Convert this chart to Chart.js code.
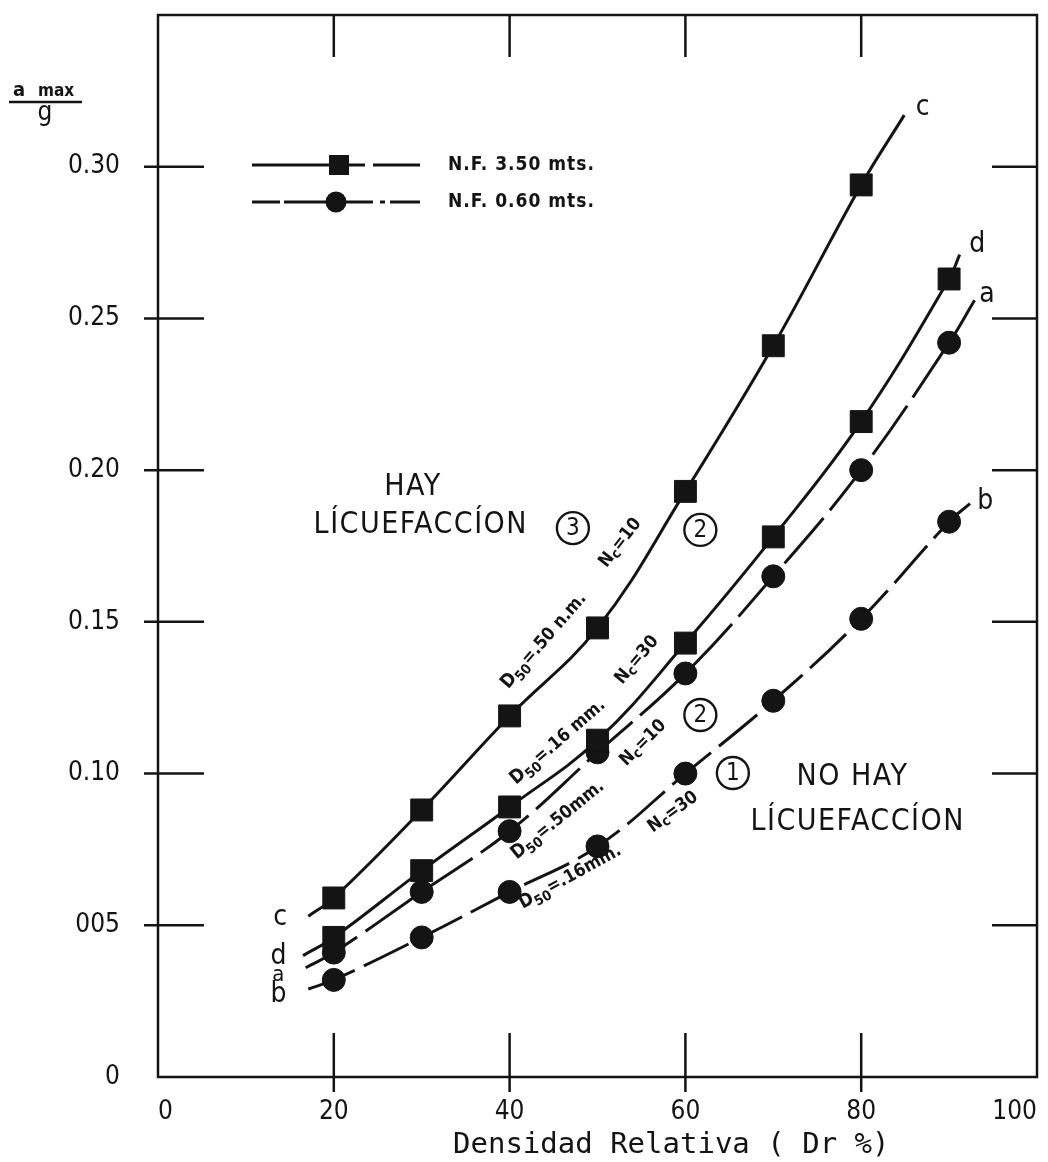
<!DOCTYPE html>
<html>
<head>
<meta charset="utf-8">
<script src="https://cdn.jsdelivr.net/npm/chart.js@4.4.0/dist/chart.umd.min.js"></script>
<style>
  html, body { margin: 0; padding: 0; background: #fff; }
  canvas { display: block; }
</style>
</head>
<body>
<canvas id="chart" width="1048" height="1162"></canvas>
<script>
// Relative density (Dr %) of the tested samples
const densities = [20, 30, 40, 50, 60, 70, 80, 90];

// a max / g at each density, one array per curve (null = not tested)
const curveC = [0.059, 0.088, 0.119, 0.148, 0.193, 0.241, 0.294, null];
const curveD = [0.046, 0.068, 0.089, 0.111, 0.143, 0.178, 0.216, 0.263];
const curveA = [0.041, 0.061, 0.081, 0.107, 0.133, 0.165, 0.200, 0.242];
const curveB = [0.032, 0.046, 0.061, 0.076, 0.100, 0.124, 0.151, 0.183];

// where each hand-drawn curve starts and stops, [Dr, a/g]
const endsC = [[17.1, 0.053], [84.9, 0.317]];
const endsD = [[16.5, 0.040], [91.2, 0.271]];
const endsA = [[16.8, 0.036], [92.9, 0.256]];
const endsB = [[17.1, 0.029], [92.4, 0.189]];

const xTickLabels = ['0', '20', '40', '60', '80', '100'];
const yTickLabels = ['0', '005', '0.10', '0.15', '0.20', '0.25', '0.30', ''];

const ink = '#141414';
const narrow = '"DejaVu Sans Condensed", "DejaVu Sans", sans-serif';
const mono = '"DejaVu Sans Mono", monospace';

function curveLine(values, ends, dash) {
    const pts = [{x: ends[0][0], y: ends[0][1]}];
    densities.forEach((x, i) => {
        if (values[i] != null) pts.push({x, y: values[i]});
    });
    pts.push({x: ends[1][0], y: ends[1][1]});
    return {
        data: pts,
        borderColor: ink,
        borderWidth: 3,
        borderDash: dash,
        pointRadius: 0,
        tension: 0.4,
        order: 1
    };
}

function curveMarks(values, style, radius) {
    const pts = [];
    densities.forEach((x, i) => {
        if (values[i] != null) pts.push({x, y: values[i]});
    });
    return {
        data: pts,
        showLine: false,
        pointStyle: style,
        pointRadius: radius,
        pointBackgroundColor: ink,
        pointBorderColor: ink,
        pointBorderWidth: 1,
        order: 0
    };
}

// rotated captions along the curves
const captions = [
    {x: 43.9, y: 0.1437, angle: -49, kind: 'D', text: '=.50 n.m.'},
    {x: 52.6, y: 0.1760, angle: -52, kind: 'N', text: '=10'},
    {x: 45.5, y: 0.1104, angle: -41, kind: 'D', text: '=.16 mm.'},
    {x: 54.5, y: 0.1374, angle: -50, kind: 'N', text: '=30'},
    {x: 45.5, y: 0.0847, angle: -39, kind: 'D', text: '=.50mm.'},
    {x: 55.2, y: 0.1101, angle: -45, kind: 'N', text: '=10'},
    {x: 46.9, y: 0.0659, angle: -29, kind: 'D', text: '=.16mm.'},
    {x: 58.6, y: 0.0873, angle: -36, kind: 'N', text: '=30'}
];

const zoneTexts = [
    {x: 29.0, y: 0.1944, text: 'HAY'},
    {x: 29.9, y: 0.1819, text: 'LÍCUEFACCÍON'},
    {x: 79.0, y: 0.0989, text: 'NO HAY'},
    {x: 79.6, y: 0.0840, text: 'LÍCUEFACCÍON'}
];

const zoneNumbers = [
    {x: 47.2, y: 0.1809, n: '3'},
    {x: 61.7, y: 0.1803, n: '2'},
    {x: 61.7, y: 0.1193, n: '2'},
    {x: 65.4, y: 0.1002, n: '1'}
];

const curveLetters = [
    {x: 87.0, y: 0.3196, t: 'c'}, {x: 93.2, y: 0.2742, t: 'd'},
    {x: 94.3, y: 0.2577, t: 'a'}, {x: 94.1, y: 0.1895, t: 'b'},
    {x: 13.9, y: 0.0524, t: 'c'}, {x: 13.7, y: 0.0398, t: 'd'},
    {x: 13.7, y: 0.0335, t: 'a', small: true}, {x: 13.7, y: 0.0270, t: 'b'}
];

function seg(ctx, x1, y1, x2, y2) {
    ctx.beginPath();
    ctx.moveTo(x1, y1);
    ctx.lineTo(x2, y2);
    ctx.stroke();
}

// border with the short inner ticks on all four sides
const frame = {
    id: 'frame',
    beforeDatasetsDraw(chart) {
        const {ctx, chartArea: {left, right, top, bottom}, scales: {x, y}} = chart;
        ctx.save();
        ctx.strokeStyle = ink;
        ctx.lineWidth = 2.5;
        ctx.strokeRect(left, top, right - left, bottom - top);
        x.ticks.forEach(t => {
            if (t.value <= x.min || t.value >= x.max) return;
            const px = x.getPixelForValue(t.value);
            seg(ctx, px, bottom + 15, px, bottom - 44);
            seg(ctx, px, top, px, top + 42);
        });
        y.ticks.forEach(t => {
            if (t.value <= y.min + 1e-9 || t.value >= y.max - 1e-9) return;
            const py = y.getPixelForValue(t.value);
            seg(ctx, left - 14, py, left + 46, py);
            seg(ctx, right - 45, py, right, py);
        });
        ctx.restore();
    }
};

function drawRun(ctx, parts, cx, cy, angle) {
    ctx.save();
    ctx.translate(cx, cy);
    ctx.rotate(angle * Math.PI / 180);
    ctx.textBaseline = 'middle';
    ctx.textAlign = 'left';
    let total = 0;
    parts.forEach(p => {
        ctx.font = `bold ${p[1]}px ${narrow}`;
        total += ctx.measureText(p[0]).width;
    });
    let pos = -total / 2;
    parts.forEach(p => {
        ctx.font = `bold ${p[1]}px ${narrow}`;
        ctx.fillText(p[0], pos, p[2]);
        pos += ctx.measureText(p[0]).width;
    });
    ctx.restore();
}

const notes = {
    id: 'notes',
    afterDatasetsDraw(chart) {
        const {ctx, chartArea: {left, top, bottom}, scales: {x, y}} = chart;
        ctx.save();
        ctx.fillStyle = ink;
        ctx.strokeStyle = ink;

        captions.forEach(c => {
            const parts = c.kind === 'D'
                ? [['D', 19, 0], ['50', 14, 6], [c.text, 18, 0]]
                : [['N', 18, 0], ['c', 14, 4], [c.text, 18, 0]];
            drawRun(ctx, parts, x.getPixelForValue(c.x), y.getPixelForValue(c.y), c.angle);
        });

        ctx.textAlign = 'center';
        ctx.textBaseline = 'middle';
        ctx.font = `30px ${narrow}`;
        ctx.letterSpacing = '1.5px';
        zoneTexts.forEach(z => {
            ctx.fillText(z.text, x.getPixelForValue(z.x), y.getPixelForValue(z.y));
        });
        ctx.letterSpacing = '0px';

        zoneNumbers.forEach(z => {
            const px = x.getPixelForValue(z.x), py = y.getPixelForValue(z.y);
            ctx.lineWidth = 2.4;
            ctx.beginPath();
            ctx.arc(px, py, 16, 0, Math.PI * 2);
            ctx.stroke();
            ctx.font = `24px ${narrow}`;
            ctx.fillText(z.n, px, py + 1);
        });

        curveLetters.forEach(l => {
            ctx.font = `${l.small ? 22 : 28}px ${narrow}`;
            ctx.fillText(l.t, x.getPixelForValue(l.x), y.getPixelForValue(l.y));
        });

        // legend
        ctx.lineWidth = 3;
        const r1 = top + 150, r2 = top + 187, lx = left + 94;
        seg(ctx, lx, r1, lx + 113, r1);
        seg(ctx, lx + 121, r1, lx + 168, r1);
        ctx.fillRect(lx + 77, r1 - 10, 20, 20);
        seg(ctx, lx, r2, lx + 28, r2);
        seg(ctx, lx + 32, r2, lx + 121, r2);
        seg(ctx, lx + 128, r2, lx + 133, r2);
        seg(ctx, lx + 138, r2, lx + 168, r2);
        ctx.beginPath();
        ctx.arc(lx + 84, r2, 10.5, 0, Math.PI * 2);
        ctx.fill();
        ctx.textAlign = 'left';
        ctx.font = `bold 19px ${narrow}`;
        ctx.letterSpacing = '1px';
        ctx.fillText('N.F. 3.50 mts.', lx + 196, r1);
        ctx.fillText('N.F. 0.60 mts.', lx + 196, r2);
        ctx.letterSpacing = '0px';

        // axis titles
        ctx.textBaseline = 'alphabetic';
        ctx.font = `29px ${mono}`;
        ctx.fillText('Densidad Relativa ( Dr %)', left + 295, bottom + 76);

        ctx.font = `bold 20px ${narrow}`;
        ctx.textAlign = 'center';
        ctx.fillText('a', 19, 96);
        ctx.font = `bold 17px ${narrow}`;
        ctx.textAlign = 'left';
        ctx.fillText('max', 38, 96);
        ctx.lineWidth = 2.5;
        seg(ctx, 9, 102, 82, 102);
        ctx.font = `26px ${narrow}`;
        ctx.textAlign = 'center';
        ctx.fillText('g', 45, 120);
        ctx.restore();
    }
};

new Chart(document.getElementById('chart'), {
    type: 'line',
    data: {
        datasets: [
            curveMarks(curveC, 'rect', 15.5),
            curveMarks(curveD, 'rect', 15.5),
            curveMarks(curveA, 'circle', 11.5),
            curveMarks(curveB, 'circle', 11.5),
            curveLine(curveC, endsC, []),
            curveLine(curveD, endsD, []),
            curveLine(curveA, endsA, [60, 10]),
            curveLine(curveB, endsB, [50, 10])
        ]
    },
    options: {
        responsive: false,
        animation: false,
        layout: {autoPadding: false, padding: {top: 15, right: 11, left: 0, bottom: 0}},
        plugins: {legend: {display: false}, tooltip: {enabled: false}},
        scales: {
            x: {
                type: 'linear', min: 0, max: 100,
                grid: {display: false, drawTicks: false},
                border: {display: false},
                ticks: {
                    stepSize: 20, padding: 20, color: ink, align: 'inner',
                    font: {family: narrow, size: 26},
                    callback: (v, i) => xTickLabels[i]
                },
                afterFit: s => { s.height = 85; s.paddingLeft = 0; s.paddingRight = 0; }
            },
            y: {
                type: 'linear', min: 0, max: 0.35,
                grid: {display: false, drawTicks: false},
                border: {display: false},
                ticks: {
                    stepSize: 0.05, padding: 38, color: ink,
                    font: {family: narrow, size: 26},
                    callback: (v, i) => yTickLabels[i]
                },
                afterFit: s => { s.width = 158; s.paddingTop = 0; s.paddingBottom = 0; }
            }
        }
    },
    plugins: [frame, notes]
});
</script>
</body>
</html>
